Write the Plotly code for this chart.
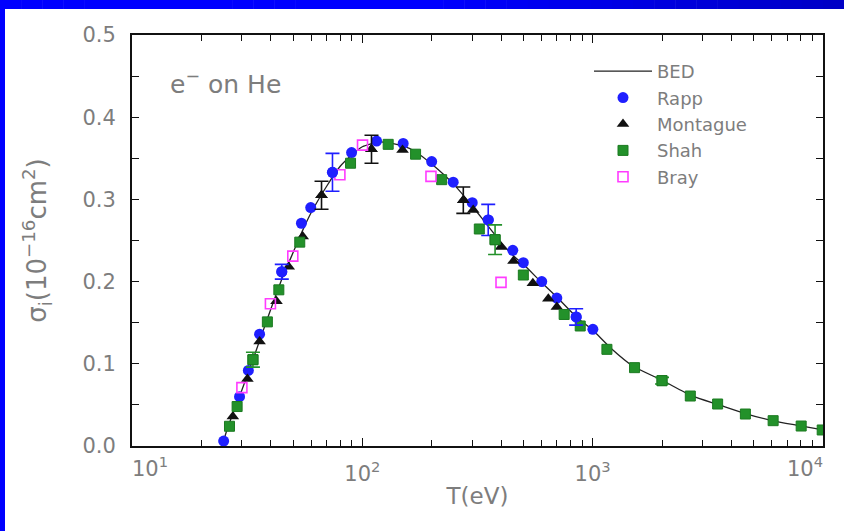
import plotly.graph_objects as go

# ---------------- data ----------------
bed_T = [24.6, 26, 28, 30, 33, 36, 40, 45, 50, 55, 60, 70, 80, 90, 100, 120, 150, 170,
         200, 250, 300, 350, 400, 450, 500, 600, 700, 850, 1000, 1200, 1500, 2000, 2700,
         3500, 4600, 6000, 8000, 10000]
bed_s = [0.0, 0.022, 0.046, 0.068, 0.100, 0.130, 0.166, 0.205, 0.235, 0.262, 0.284, 0.316,
         0.340, 0.354, 0.364, 0.370, 0.365, 0.358, 0.343, 0.318, 0.292, 0.268, 0.248, 0.232,
         0.221, 0.199, 0.181, 0.157, 0.141, 0.119, 0.097, 0.080, 0.061, 0.0505, 0.0395,
         0.031, 0.0245, 0.0195]

rapp_T = [25.0, 29.3, 32.0, 35.8, 44.7, 54.4, 59.7, 74.2, 89.8, 115.3, 150.4, 200, 248,
          300, 352, 450, 500, 601, 699, 848, 1002]
rapp_s = [0.006, 0.060, 0.092, 0.136, 0.212, 0.271, 0.290, 0.333, 0.357, 0.371, 0.368,
          0.346, 0.321, 0.296, 0.275, 0.238, 0.223, 0.200, 0.180, 0.157, 0.142]
rapp_e = [0, 0, 0, 0, 0.009, 0, 0, 0.023, 0, 0, 0, 0, 0, 0, 0.019, 0, 0, 0, 0, 0.010, 0]

mont_T = [27.4, 31.7, 35.8, 42.4, 47.9, 55.1, 66.5, 109.6, 149.5, 274.4, 303, 400, 453,
          550, 642, 699]
mont_s = [0.036, 0.0815, 0.127, 0.176, 0.218, 0.255, 0.305, 0.361, 0.360, 0.299, 0.287,
          0.242, 0.225, 0.198, 0.179, 0.169]
mont_e = [0, 0, 0, 0, 0, 0, 0.017, 0.017, 0, 0.016, 0, 0, 0, 0, 0, 0]

shah_T = [26.5, 28.6, 33.5, 38.7, 43.4, 53.5, 88.9, 129.5, 170.3, 221, 322, 377, 500, 752,
          883, 1153, 1520, 2000, 2654, 3488, 4603, 6075, 8040, 9920]
shah_s = [0.024, 0.048, 0.105, 0.151, 0.190, 0.248, 0.344, 0.367, 0.355, 0.324, 0.264,
          0.251, 0.208, 0.160, 0.146, 0.1176, 0.0953, 0.0795, 0.0608, 0.0511, 0.0389,
          0.0308, 0.0243, 0.0195]
shah_e = [0, 0, 0.009, 0, 0, 0, 0, 0, 0, 0, 0, 0.018, 0, 0, 0, 0, 0, 0.004, 0, 0, 0, 0, 0, 0]

bray_T = [30.0, 39.9, 49.9, 79.9, 100.2, 198.6, 400]
bray_s = [0.071, 0.173, 0.231, 0.330, 0.366, 0.328, 0.199]

x_major = [100, 1000]
x_major_text = ["10<sup>2</sup>", "10<sup>3</sup>"]
x_first, x_first_text = [10], ["10<sup>1</sup>"]
x_last, x_last_text = [10000], ["10<sup>4</sup>"]
x_minor = [m * 10 ** d for d in (1, 2, 3) for m in range(2, 10)]
y_ticks = [0, 0.1, 0.2, 0.3, 0.4, 0.5]

# ---------------- style ----------------
FONT = "DejaVu Sans"
GREY = "#7d7d7d"
BLUE = "#1f1fff"
GREEN = "#23912a"
BLACK = "#111111"
MAG = "#ff3cff"

fig = go.Figure()

fig.add_trace(go.Scatter(x=bed_T, y=bed_s, mode="lines", name="BED",
                         line=dict(color="#222222", width=1.3, shape="spline", smoothing=0.6)))


def add_series(name, T, s, err, marker, ecolor, xaxis="x"):
    fig.add_trace(go.Scatter(x=T, y=s, mode="markers", name=name, marker=marker))
    if err is not None:
        eT = [t for t, e in zip(T, err) if e > 0]
        es = [v for v, e in zip(s, err) if e > 0]
        ee = [e for e in err if e > 0]
        fig.add_trace(go.Scatter(x=eT, y=es, mode="markers", marker=marker, showlegend=False,
                                 name=name, xaxis=xaxis,
                                 error_y=dict(type="data", array=ee, color=ecolor,
                                              thickness=1.6, width=7)))


add_series("Rapp", rapp_T, rapp_s, rapp_e,
           dict(symbol="circle", size=11, color=BLUE, line=dict(width=0)), BLUE, "x2")
add_series("Montague", mont_T, mont_s, mont_e,
           dict(symbol="triangle-up", size=11, color=BLACK, line=dict(width=0)), BLACK, "x")
add_series("Shah", shah_T, shah_s, shah_e,
           dict(symbol="square", size=10, color=GREEN, line=dict(width=1, color="#1b7a20")),
           GREEN, "x3")
add_series("Bray", bray_T, bray_s, None,
           dict(symbol="square-open", size=10, color=MAG, line=dict(width=1.6, color=MAG)), MAG)

L, R, T_, B = 132, 21, 35, 85
W = 844 - L - R
H = 531 - T_ - B


def fx(px):
    return (px - L) / W


def fy(py):
    return (531 - B - py) / H


shapes = []
# left blue bar
shapes.append(dict(type="rect", xref="paper", yref="paper", x0=fx(0), x1=fx(5),
                   y0=fy(531), y1=fy(0), fillcolor="#0000ff", line=dict(width=0), layer="above"))
# top blue bar with gradient to darker blue at right
N = 40
for i in range(N):
    a = i * 844 / N
    b = (i + 1) * 844 / N + 0.5
    t = max(0.0, (a - 420) / (844 - 420))
    c = int(round(255 - t * 60))
    shapes.append(dict(type="rect", xref="paper", yref="paper", x0=fx(a), x1=fx(min(b, 844)),
                       y0=fy(9), y1=fy(0), fillcolor=f"rgb(0,0,{c})", line=dict(width=0),
                       layer="above"))

axis_common = dict(showline=True, linecolor="#111111", linewidth=2, mirror="ticks",
                   showgrid=False, zeroline=False, ticks="inside", tickcolor="#111111",
                   tickwidth=1.2)
tickfont = dict(family=FONT, size=21, color=GREY)

fig.update_layout(
    width=844, height=531,
    margin=dict(l=L, r=R, t=T_, b=B, pad=0),
    paper_bgcolor="white", plot_bgcolor="white",
    font=dict(family=FONT, color=GREY),
    showlegend=True,
    legend=dict(x=fx(589), y=fy(53), xanchor="left", yanchor="top",
                bgcolor="rgba(0,0,0,0)", font=dict(family=FONT, size=18, color=GREY),
                itemwidth=58, tracegroupgap=0),
    xaxis=dict(type="log", range=[1, 4], tickvals=x_major, ticktext=x_major_text,
               ticklen=8, tickfont=tickfont, ticklabelstandoff=8,
               minor=dict(tickvals=x_minor, ticks="inside", ticklen=6, tickwidth=1.2,
                          tickcolor="#111111"),
               title=dict(text="T(eV)", font=dict(family=FONT, size=23, color=GREY),
                          standoff=3),
               **axis_common),
    xaxis2=dict(type="log", range=[1, 4], overlaying="x", anchor="y", side="bottom",
                tickvals=x_first, ticktext=x_first_text, ticks="", showline=False,
                showgrid=False, zeroline=False, ticklabelposition="outside right",
                ticklabelstandoff=8, tickfont=tickfont),
    xaxis3=dict(type="log", range=[1, 4], overlaying="x", anchor="y", side="bottom",
                tickvals=x_last, ticktext=x_last_text, ticks="", showline=False,
                showgrid=False, zeroline=False, ticklabelposition="outside left",
                ticklabelstandoff=8, tickfont=tickfont),
    yaxis=dict(range=[0, 0.5], tickvals=y_ticks, tickformat=".1f",
               ticklen=7, tickfont=tickfont, ticklabelstandoff=10,
               minor=dict(dtick=0.05, ticks="inside", ticklen=7, tickwidth=1.2,
                          tickcolor="#111111"),
               title=dict(text="σ<sub>i</sub>(10<sup>−16</sup>cm<sup>2</sup>)",
                          font=dict(family=FONT, size=26, color=GREY), standoff=28),
               **axis_common),
    shapes=shapes,
    annotations=[dict(text="e<sup>−</sup> on He", xref="paper", yref="paper",
                      x=fx(168), y=fy(83), xanchor="left", yanchor="middle",
                      showarrow=False, font=dict(family=FONT, size=25, color=GREY))],
)

fig.write_html("out.html", config={"displayModeBar": False},
               post_script="document.body.style.margin='0';")
